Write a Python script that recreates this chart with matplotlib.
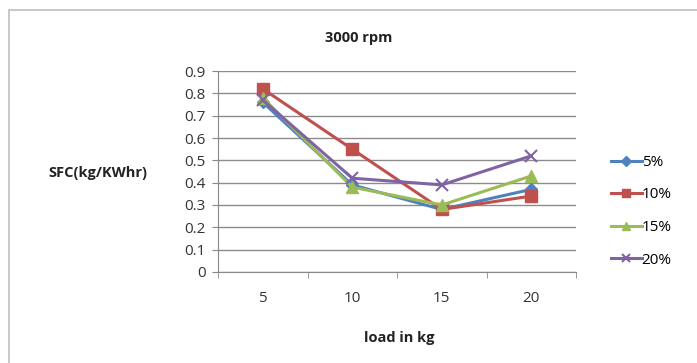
import matplotlib.pyplot as plt
from matplotlib.patches import Rectangle

# load in kg
loads = ['5', '10', '15', '20']
# SFC (kg/KWhr) for each blend
sfc_5 = [0.76, 0.39, 0.28, 0.37]
sfc_10 = [0.82, 0.55, 0.28, 0.34]
sfc_15 = [0.78, 0.38, 0.30, 0.43]
sfc_20 = [0.77, 0.42, 0.39, 0.52]
y_ticks = [0, 0.1, 0.2, 0.3, 0.4, 0.5, 0.6, 0.7, 0.8, 0.9]

plt.rcParams['font.family'] = ['Open Sans', 'DejaVu Sans']

fig = plt.figure(figsize=(6.97, 3.63), dpi=100)
# moldura do grafico
fig.patches.append(Rectangle((0.013, -0.01), 1.0, 0.982, transform=fig.transFigure,
                             fill=False, edgecolor='#bfbfbf', linewidth=1.2))

ax = fig.add_axes([0.3128, 0.2507, 0.5136, 0.5537])
x = list(range(len(loads)))

ax.plot(x, sfc_5, color='#4F81BD', marker='D', markersize=6, linewidth=2.2, label='5%')
ax.plot(x, sfc_10, color='#C0504D', marker='s', markersize=8, linewidth=2.2, label='10%')
ax.plot(x, sfc_15, color='#9BBB59', marker='^', markersize=8, linewidth=2.2, label='15%')
ax.plot(x, sfc_20, color='#8064A2', marker='x', markersize=8, markeredgewidth=1.5,
        linewidth=2.2, label='20%')

ax.set_xlim(-0.5, 3.5)
ax.set_ylim(0, 0.9)
ax.set_yticks(y_ticks)
ax.set_yticklabels([('%g' % v) for v in y_ticks], fontsize=11, color='#333333')
ax.set_xticks(x)
ax.set_xticklabels(loads, fontsize=11, color='#333333')
ax.set_xticks([-0.5, 0.5, 1.5, 2.5, 3.5], minor=True)
ax.tick_params(axis='x', which='major', length=0, pad=14)
ax.tick_params(axis='x', which='minor', length=4, color='#888888', direction='out')
ax.tick_params(axis='y', length=4, color='#888888', pad=5)

ax.grid(axis='y', color='#8c8c8c', linewidth=1)
ax.set_axisbelow(True)
for s in ['top', 'right']:
    ax.spines[s].set_visible(False)
ax.spines['left'].set_color('#888888')
ax.spines['bottom'].set_color('#888888')

fig.text(0.515, 0.895, '3000 rpm', ha='center', va='center', fontsize=10.5,
         fontweight='bold', color='#222222')
fig.text(0.14, 0.523, 'SFC(kg/KWhr)', ha='center', va='center', fontsize=10.5,
         fontweight='bold', color='#222222')
fig.text(0.573, 0.069, 'load in kg', ha='center', va='center', fontsize=10.5,
         fontweight='bold', color='#222222')

fig.legend(loc='center left', bbox_to_anchor=(0.857, 0.418), frameon=False,
           fontsize=11, handlelength=2.0, handletextpad=0.0, labelspacing=1.15,
           markerscale=0.8)

plt.savefig('out.png', dpi=100)
